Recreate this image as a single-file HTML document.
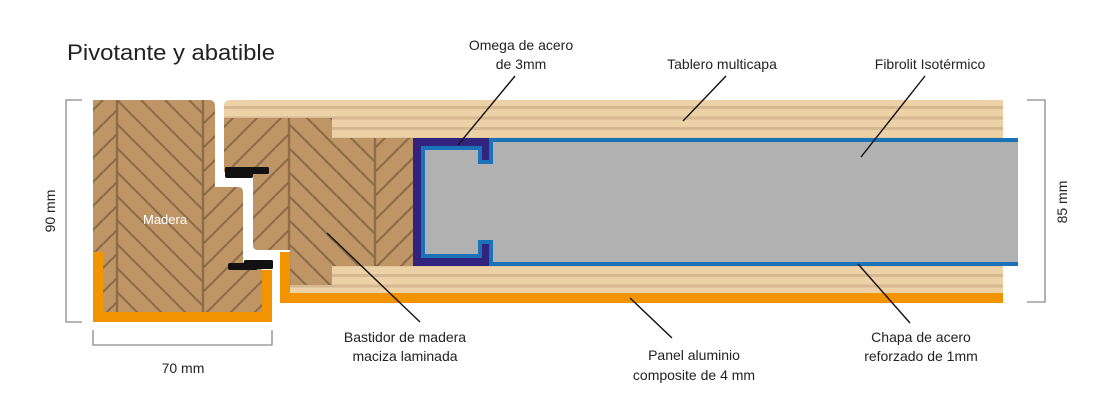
<!DOCTYPE html>
<html><head><meta charset="utf-8"><style>
html,body{margin:0;padding:0;background:#fff;}
svg{display:block;}
text{font-family:"Liberation Sans",sans-serif;fill:#222;}
</style></head><body>
<svg width="1111" height="410" viewBox="0 0 1111 410" xmlns="http://www.w3.org/2000/svg">
<defs>
<pattern id="wood" patternUnits="userSpaceOnUse" x="117" y="100" width="172" height="24">
<rect width="172" height="24" fill="#bf9566"/>
<g stroke="#8b6d4c" stroke-width="2.2">
<line x1="0" y1="0" x2="24" y2="24"/>
<line x1="24" y1="0" x2="48" y2="24"/>
<line x1="48" y1="0" x2="72" y2="24"/>
<line x1="72" y1="0" x2="86" y2="14"/>
<line x1="86" y1="24" x2="110" y2="0"/>
<line x1="110" y1="24" x2="134" y2="0"/>
<line x1="134" y1="24" x2="158" y2="0"/>
<line x1="158" y1="24" x2="172" y2="10"/>
</g>
<g stroke="#8b6d4c" stroke-width="2.4">
<line x1="0" y1="0" x2="0" y2="24"/>
<line x1="86" y1="0" x2="86" y2="24"/>
<line x1="172" y1="0" x2="172" y2="24"/>
</g>
</pattern>
<pattern id="ply" patternUnits="userSpaceOnUse" x="0" y="100" width="10" height="10.5">
<rect width="10" height="10.5" fill="#edd2a8"/>
<rect y="6" width="10" height="3" fill="#d6b892"/>
</pattern>
</defs>

<text x="67" y="60" font-size="22" textLength="208" lengthAdjust="spacingAndGlyphs">Pivotante y abatible</text>

<path d="M93,100 H209 Q215,100 215,106 V187 H238 Q243,187 243,192 V262 H262 V312 H93 Z" fill="url(#wood)"/>
<path d="M93,252 H103 V312 H262 V270 H272 V322 H93 Z" fill="#f29400"/>
<text x="143" y="224" font-size="13" style="fill:#fff">Madera</text>

<path d="M230,100 H1003 V138 H332 V118 H224 V106 Q224,100 230,100 Z" fill="url(#ply)"/>
<path d="M224,118 H332 V138 H413 V268 H332 V285 H290 V250 H258 Q253,250 253,245 V172 H224 Z" fill="url(#wood)"/>
<path d="M332,266 H1003 V293 H290 V285 H332 Z" fill="url(#ply)"/>
<path d="M280,252 H290 V293 H1003 V303 H280 Z" fill="#f29400"/>

<rect x="225" y="167" width="44" height="7" rx="1.5" fill="#111"/>
<rect x="225" y="170" width="28" height="8" rx="2" fill="#111"/>
<rect x="228" y="263" width="30" height="7" rx="2" fill="#111"/>
<rect x="244" y="260" width="29" height="9" rx="1.5" fill="#111"/>

<rect x="413" y="138" width="76" height="128" fill="#32237f"/>
<path d="M421,146 H482 V160 H489 V138 H1018 V266 H489 V244 H482 V258 H421 Z" fill="#1a73b9"/>
<path d="M425,150 H478 V164 H493 V142 H1018 V262 H493 V240 H478 V254 H425 Z" fill="#b1b1b1"/>

<g stroke="#8a8a8a" stroke-width="1.3" fill="none">
<polyline points="82,100 66,100 66,322 82,322"/>
<polyline points="93,330 93,345 272,345 272,330"/>
<polyline points="1027,100 1045,100 1045,302 1027,302"/>
</g>
<text x="55" y="211" font-size="14" text-anchor="middle" transform="rotate(-90 55 211)">90 mm</text>
<text x="183" y="373" font-size="14" text-anchor="middle">70 mm</text>
<text x="1067" y="202" font-size="14" text-anchor="middle" transform="rotate(-90 1067 202)">85 mm</text>

<g stroke="#111" stroke-width="1.4">
<line x1="515" y1="76" x2="458" y2="145"/>
<line x1="726" y1="76" x2="683" y2="121"/>
<line x1="925" y1="76" x2="861" y2="157"/>
<line x1="327" y1="233" x2="420" y2="322"/>
<line x1="630" y1="298" x2="672" y2="338"/>
<line x1="858" y1="264" x2="910" y2="323"/>
</g>

<g font-size="14" text-anchor="middle">
<text x="521" y="50">Omega de acero</text>
<text x="521" y="69">de 3mm</text>
<text x="722" y="69">Tablero multicapa</text>
<text x="930" y="69">Fibrolit Isotérmico</text>
<text x="405" y="342">Bastidor de madera</text>
<text x="405" y="361">maciza laminada</text>
<text x="694" y="360">Panel aluminio</text>
<text x="694" y="380">composite de 4 mm</text>
<text x="921" y="342">Chapa de acero</text>
<text x="921" y="361">reforzado de 1mm</text>
</g>
</svg>
</body></html>
